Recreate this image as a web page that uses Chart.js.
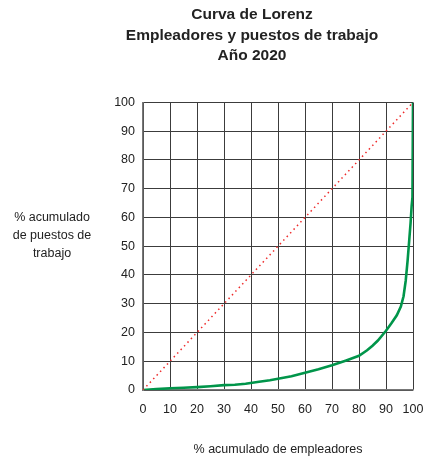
<!DOCTYPE html>
<html>
<head>
<meta charset="utf-8">
<script src="https://cdn.jsdelivr.net/npm/chart.js@4.4.1/dist/chart.umd.min.js"></script>
<style>
  html, body { margin: 0; padding: 0; background: #fff; }
  canvas { display: block; }
</style>
</head>
<body>
<canvas id="lorenzChart" width="426" height="459"></canvas>
<script>
// Lorenz curve
const empleadores = [0, 5, 10, 15, 20, 25, 30, 34, 38, 43, 47, 50, 55, 60, 65, 70, 75, 80, 83, 85, 87, 90, 92, 94, 95.5, 96.5, 97.3, 98, 98.6, 99.1, 99.5, 99.8, 100];
const puestos     = [0, 0.3, 0.6, 0.8, 1.0, 1.3, 1.7, 1.8, 2.2, 2.9, 3.4, 3.9, 4.8, 6.0, 7.2, 8.6, 10.2, 11.9, 13.8, 15.4, 17.2, 20.6, 23.2, 26.0, 29.0, 32.6, 38, 45, 52, 58, 64, 67, 100];

// line of perfect equality
const igualdadX = [0, 100];
const igualdadY = [0, 100];

const titleLines = ['Curva de Lorenz', 'Empleadores y puestos de trabajo', 'Año 2020'];
const yTitleLines = ['% acumulado', 'de puestos de', 'trabajo'];
const xTitle = '% acumulado de empleadores';

const FONT = '"Liberation Sans", Arial, sans-serif';

const toPoints = (xs, ys) => xs.map((x, i) => ({ x: x, y: ys[i] }));

// y axis title is horizontal in the original, so draw it by hand
const yTitlePlugin = {
    id: 'yTitle',
    afterDraw(chart) {
        const ctx = chart.ctx;
        ctx.save();
        ctx.font = '12.5px ' + FONT;
        ctx.fillStyle = '#222';
        ctx.textAlign = 'center';
        ctx.textBaseline = 'middle';
        yTitleLines.forEach((t, i) => ctx.fillText(t, 52, 218 + i * 18));
        ctx.restore();
    }
};

const ctx = document.getElementById('lorenzChart').getContext('2d');

new Chart(ctx, {
    type: 'scatter',
    data: {
        datasets: [{
            label: 'Igualdad',
            data: toPoints(igualdadX, igualdadY),
            showLine: true,
            borderColor: '#ee2a2a',
            borderWidth: 1.5,
            borderDash: [1.5, 3.5],
            pointRadius: 0
        }, {
            label: 'Lorenz',
            data: toPoints(empleadores, puestos),
            showLine: true,
            borderColor: '#00954a',
            borderWidth: 2.6,
            pointRadius: 0,
            tension: 0
        }]
    },
    options: {
        responsive: false,
        animation: false,
        layout: { padding: { left: 81, right: 3, top: 0, bottom: 0 } },
        plugins: {
            legend: { display: false },
            tooltip: { enabled: false },
            title: {
                display: true,
                text: titleLines,
                color: '#222',
                font: { family: FONT, size: 15.5, weight: 'bold', lineHeight: 1.3 },
                padding: { top: 5, bottom: 37 }
            }
        },
        scales: {
            x: {
                type: 'linear',
                min: 0,
                max: 100,
                ticks: { stepSize: 10, color: '#222', font: { family: FONT, size: 12.5 }, padding: 12, maxRotation: 0 },
                grid: { color: '#3c3c3c', lineWidth: 1, drawTicks: false },
                border: { color: '#777', width: 1.5 },
                title: {
                    display: true,
                    text: xTitle,
                    color: '#222',
                    font: { family: FONT, size: 12.5 },
                    padding: { top: 0, bottom: 2 }
                },
                afterFit: (s) => { s.height = 69; s.paddingRight = 13; }
            },
            y: {
                min: 0,
                max: 100,
                ticks: { stepSize: 10, color: '#222', font: { family: FONT, size: 12.5 }, padding: 8 },
                grid: { color: '#3c3c3c', lineWidth: 1, drawTicks: false },
                border: { color: '#777', width: 1.5 },
                afterFit: (s) => { s.width = 62; }
            }
        }
    },
    plugins: [yTitlePlugin]
});
</script>
</body>
</html>
